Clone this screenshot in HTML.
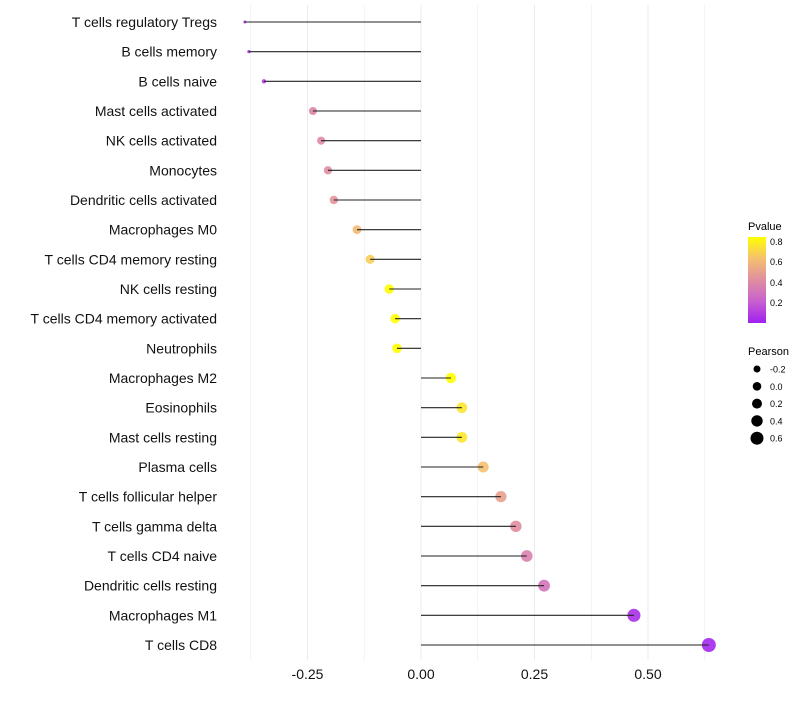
<!DOCTYPE html>
<html><head><meta charset="utf-8"><style>
body{margin:0;background:#fff;font-family:"Liberation Sans",sans-serif}
</style></head><body>
<svg id="c" width="800" height="700" font-family="Liberation Sans, sans-serif">
<defs><linearGradient id="pg" x1="0" y1="1" x2="0" y2="0">
<stop offset="0" stop-color="#a020f0"/><stop offset="0.25" stop-color="#c860d0"/><stop offset="0.5" stop-color="#e08ea0"/><stop offset="0.75" stop-color="#f5c070"/><stop offset="1" stop-color="#ffff00"/></linearGradient></defs>
<g id="grid"></g><g id="dots"></g><g id="marks"></g><g id="ylab"></g><g id="xlab"></g>
<g>
<text x="748" y="230" font-size="11">Pvalue</text>
<rect x="748" y="237" width="18" height="86" fill="url(#pg)"/>
<text x="770" y="245" font-size="9">0.8</text><text x="770" y="265" font-size="9">0.6</text>
<text x="770" y="286" font-size="9">0.4</text><text x="770" y="306" font-size="9">0.2</text>
</g>
<g id="sizeleg"><text x="748" y="355" font-size="11">Pearson</text></g>
</svg>
<script>
const categories=["T cells regulatory  Tregs","B cells memory","B cells naive","Mast cells activated","NK cells activated","Monocytes","Dendritic cells activated","Macrophages M0","T cells CD4 memory resting","NK cells resting","T cells CD4 memory activated","Neutrophils","Macrophages M2","Eosinophils","Mast cells resting","Plasma cells","T cells follicular helper","T cells gamma delta","T cells CD4 naive","Dendritic cells resting","Macrophages M1","T cells CD8"];
const pearson=[-0.388,-0.379,-0.346,-0.238,-0.220,-0.205,-0.192,-0.141,-0.112,-0.070,-0.057,-0.053,0.066,0.090,0.090,0.137,0.176,0.209,0.233,0.271,0.469,0.634];
const pvalue=[0.05,0.06,0.1,0.38,0.4,0.42,0.45,0.6,0.68,0.85,0.85,0.86,0.85,0.76,0.76,0.63,0.5,0.42,0.36,0.3,0.05,0.02];
const xTicks=[-0.25,0,0.25,0.5];
const xTickLabels=["-0.25","0.00","0.25","0.50"];
const sizeLegend=[-0.2,0,0.2,0.4,0.6];
const sizeLegendLabels=["-0.2","0.0","0.2","0.4","0.6"];
const NS="http://www.w3.org/2000/svg";
const x=v=>421+v*454, y=i=>22+i*(623/21);
const r=v=>v<-0.24?1.5+2.5*Math.max(0,v+0.388)/0.148:Math.sqrt(16+37.8*(v+0.24));
const stops=[[0,[160,32,240]],[0.21,[200,96,208]],[0.42,[224,142,160]],[0.63,[245,192,112]],[0.84,[255,255,0]]];
function col(p){p=Math.min(0.84,Math.max(0,p));for(let k=1;k<stops.length;k++){if(p<=stops[k][0]){const a=stops[k-1],b=stops[k],t=(p-a[0])/(b[0]-a[0]);return "rgb("+a[1].map((c,j)=>Math.round(c+(b[1][j]-c)*t)).join(",")+")";}}}
function mk(t,at,p){const e=document.createElementNS(NS,t);for(const k in at)e.setAttribute(k,at[k]);p.appendChild(e);return e;}
const G=document.getElementById('grid'),D=document.getElementById('dots'),M=document.getElementById('marks'),YL=document.getElementById('ylab'),XL=document.getElementById('xlab');
for(let v=-0.375;v<=0.63;v+=0.125){const g=mk('line',{x1:x(v),x2:x(v),y1:5,y2:660,stroke:'#ebebeb','stroke-width':Math.abs(v*4-Math.round(v*4))<1e-6?1:0.6},G);

}
categories.forEach((c,i)=>{
const d=mk('circle',{cx:x(pearson[i]),cy:y(i),r:r(pearson[i]),fill:col(pvalue[i]),'fill-opacity':0.9},D);


const l=mk('line',{x1:x(0),x2:x(pearson[i]),y1:y(i),y2:y(i),stroke:'#222','stroke-width':1.1},M);


const t=mk('text',{x:217,y:y(i)+5,'text-anchor':'end','font-size':14,fill:'#111'},YL);t.textContent=c;


});
xTicks.forEach((v,i)=>{const t=mk('text',{x:x(v),y:679,'text-anchor':'middle','font-size':14,fill:'#111'},XL);t.textContent=xTickLabels[i];

});
const SL=document.getElementById('sizeleg');
const lr=[3.5,4.3,5.0,5.7,6.5];
sizeLegend.forEach((v,i)=>{const cy=369+i*17.3;
const d=mk('circle',{cx:757,cy:cy,r:lr[i],fill:'#000'},SL);


const t=mk('text',{x:770,y:cy+3.5,'font-size':9},SL);t.textContent=sizeLegendLabels[i];

});
</script>
</body></html>
